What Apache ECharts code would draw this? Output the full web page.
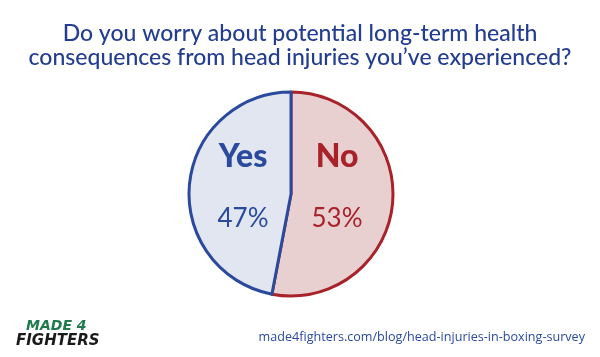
<!DOCTYPE html>
<html><head><meta charset="utf-8">
<script src="https://cdn.jsdelivr.net/npm/echarts@6/dist/echarts.min.js"></script>
<style>html,body{margin:0;padding:0;background:#fff}#c{width:600px;height:357px}</style>
</head><body><div id="c"></div>
<script>
const categories = ['No', 'Yes'];
const values = [53, 47];
const titleLines = ['Do you worry about potential long-term health', 'consequences from head injuries you\u2019ve experienced?'];
const sourceText = 'made4fighters.com/blog/head-injuries-in-boxing-survey';

const fills = {No: '#e8d0d1', Yes: '#e1e6f1'};
const borders = {No: '#a8222a', Yes: '#2a4a9e'};
const labelPos = {No: [337, 188], Yes: [243, 188]};

const chart = echarts.init(document.getElementById('c'));
chart.setOption({
  backgroundColor: '#ffffff',
  animation: false,
  title: {
    text: titleLines.join('\n'),
    left: 'center', top: 16,
    textStyle: {fontFamily: 'Lato', fontSize: 23, fontWeight: 500, color: '#233d91', lineHeight: 24.5}
  },
  graphic: [
    {type: 'text', left: 26, top: 319, style: {text: 'MADE 4', font: 'italic bold 14px "DejaVu Sans"', fill: '#1f7a4c'}},
    {type: 'text', left: 16, top: 334, style: {text: 'FIGHTERS', font: 'italic bold 15px "DejaVu Sans"', fill: '#1a1a1a'}},
    {type: 'text', right: 15, top: 331, style: {text: sourceText, font: '12.6px "Open Sans"', fill: '#2a4a9e'}}
  ],
  series: [{
    type: 'pie',
    center: [291, 194],
    radius: 102,
    startAngle: 90,
    clockwise: true,
    labelLine: {show: false},
    emphasis: {disabled: true},
    labelLayout: function (p) {
      const pos = labelPos[categories[p.dataIndex]];
      return {x: pos[0], y: pos[1], align: 'center', verticalAlign: 'middle'};
    },
    data: categories.map((c, i) => ({
      name: c, value: values[i],
      itemStyle: {color: fills[c], borderColor: borders[c], borderWidth: 3},
      label: {
        show: true, position: 'inside',
        formatter: '{n|{b}}\n{p|{d}%}',
        rich: {
          n: {fontFamily: 'Lato', fontWeight: 900, fontSize: 32, color: borders[c], lineHeight: 62},
          p: {fontFamily: 'Lato', fontWeight: 400, fontSize: 26, color: borders[c], lineHeight: 62}
        }
      }
    }))
  }]
});
</script></body></html>
